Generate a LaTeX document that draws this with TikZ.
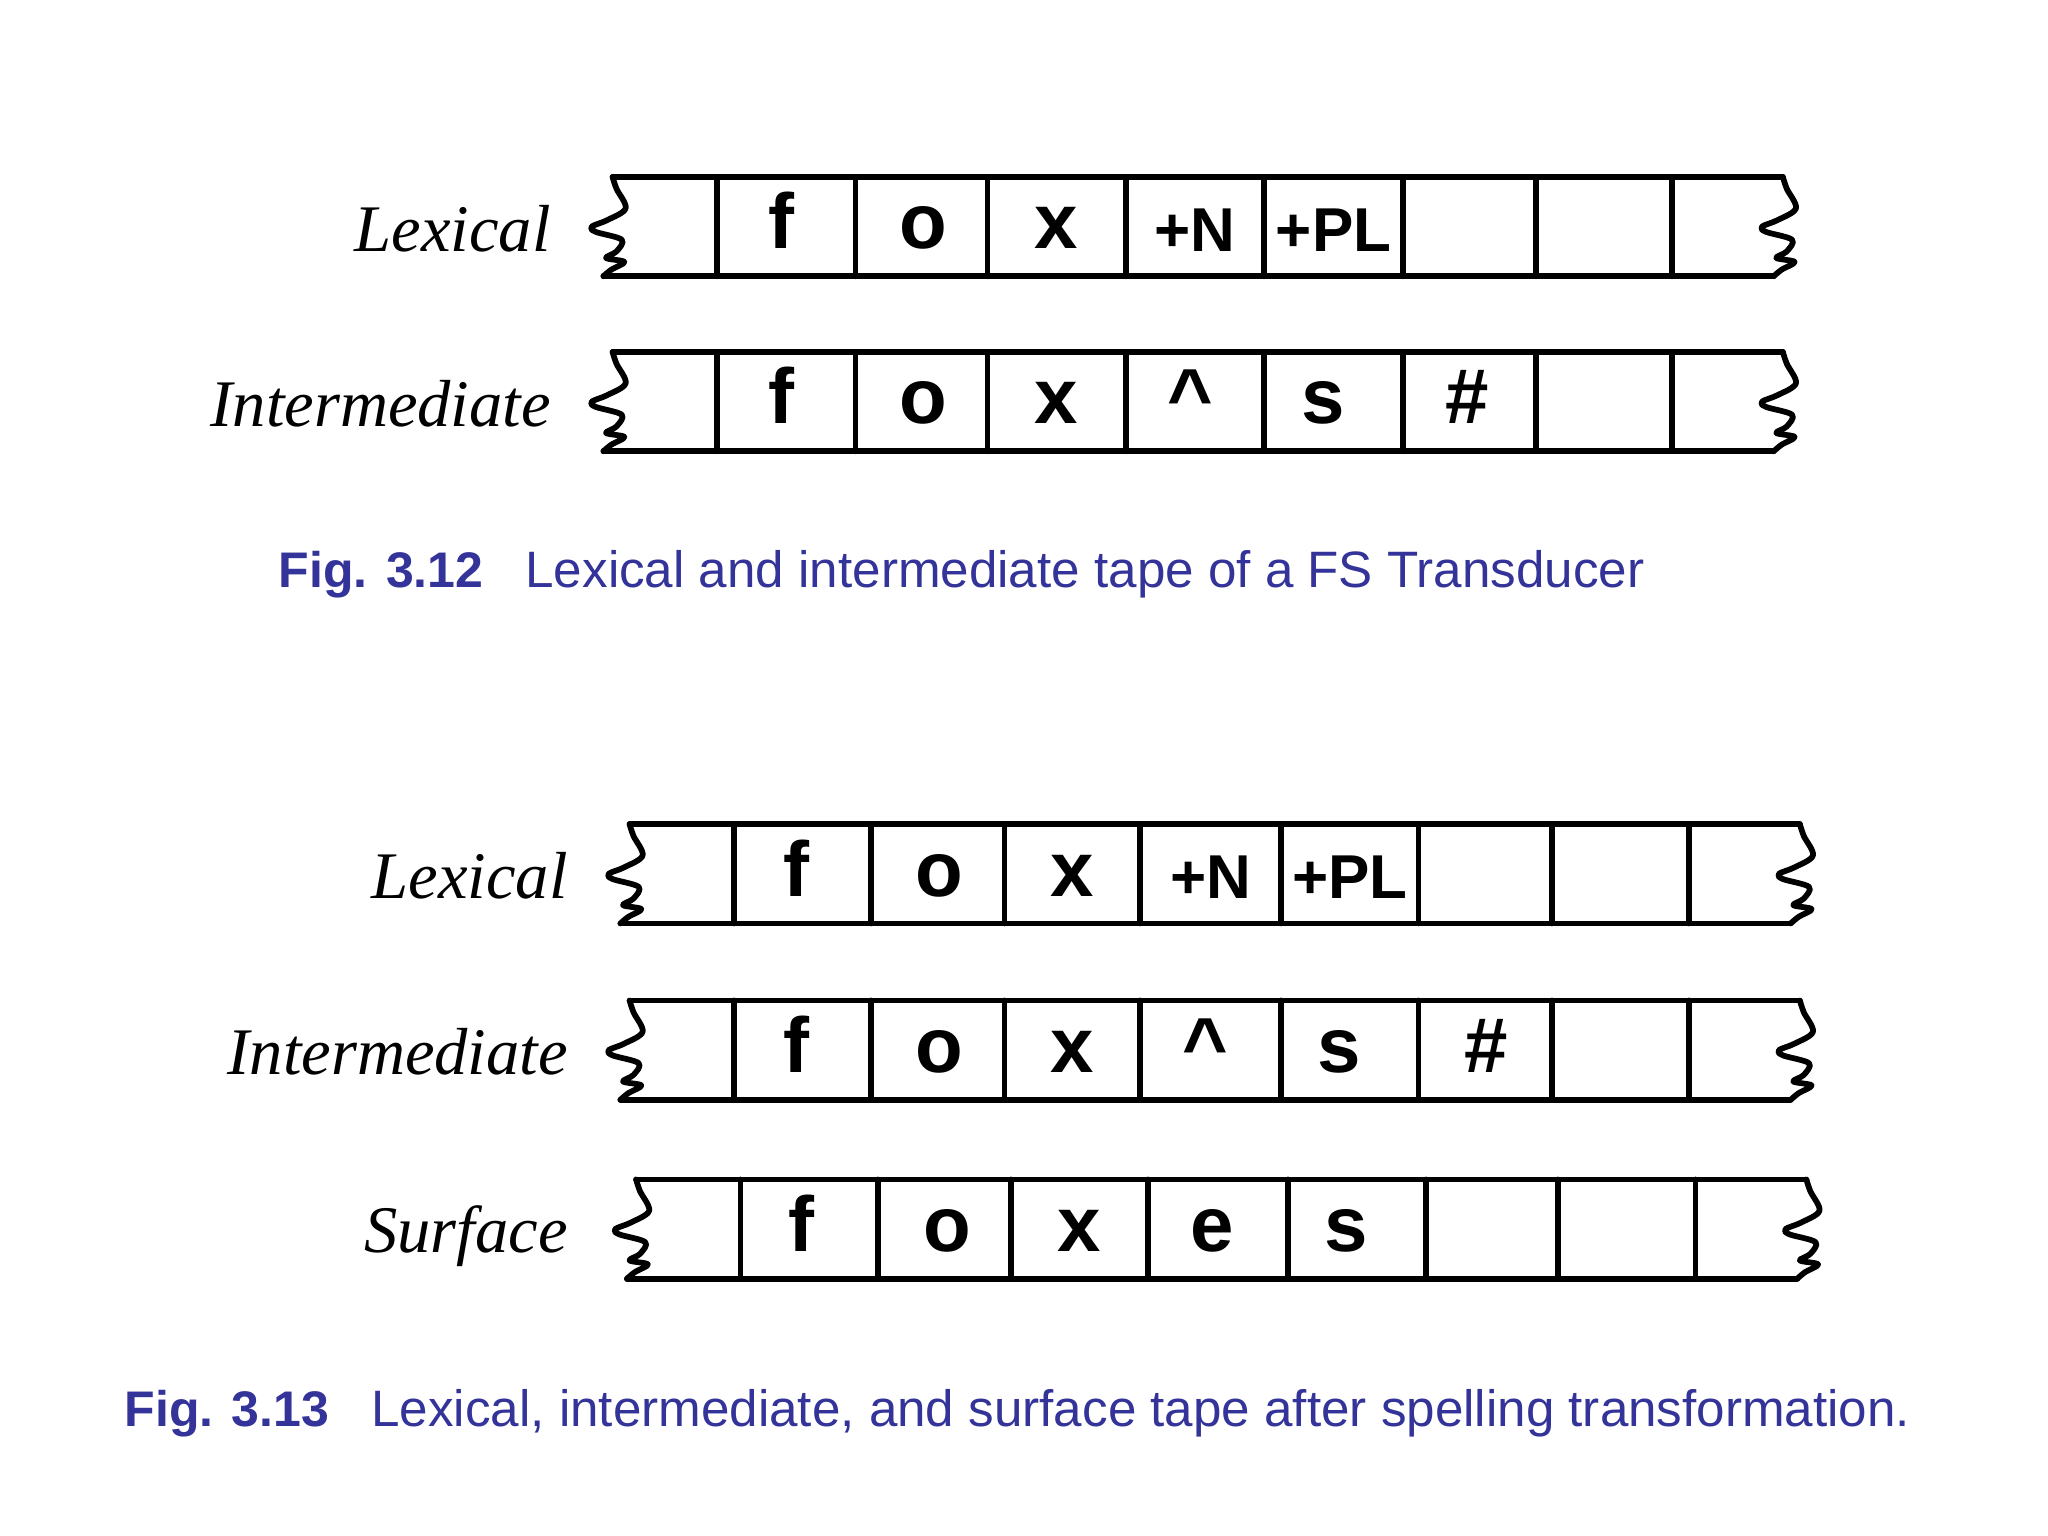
\documentclass[tikz,border=0pt]{standalone}
\usepackage{fontspec}
\setmainfont{Liberation Serif}
\setsansfont{Liberation Sans}
\usepackage{tikz}

\definecolor{capblue}{RGB}{51,51,153}
\tikzset{
  tapeline/.style={black, line width=2.5pt, line join=round, line cap=round},
  wavy/.pic={
    \draw [tapeline] plot [smooth, tension=0.55] coordinates {(0,0) (3,-9) (10,-24) (-4,-33) (-16,-38) (-13,-42) (7,-48) (3,-57) (-5,-62) (9,-65) (-1,-71) (-7,-76)};
  },
  sym/.style={font=\fontsize{34}{34}\selectfont\sffamily\bfseries, anchor=base},
  tag/.style={font=\fontsize{27}{27}\selectfont\sffamily\bfseries, anchor=base},
  tapename/.style={font=\fontsize{29}{30}\selectfont\itshape, anchor=base east},
  capnum/.style={font=\fontsize{21.8}{22}\selectfont\sffamily\bfseries, text=capblue, anchor=base west},
  captext/.style={font=\fontsize{22.3}{22}\selectfont\sffamily, text=capblue, anchor=base west}
}

\begin{document}
\begin{tikzpicture}[x=0.02cm, y=0.02cm]
\tikzstyle{every node}+=[inner sep=0pt]
\useasboundingbox (0,0) rectangle (1568,-1176);
% Fig. 3.12, lexical tape
\draw [tapeline] (469,-135.5) -- (1365,-135.5) (462,-211.5) -- (1358,-211.5)
  (549,-135.5) -- (549,-211.5) (655,-135.5) -- (655,-211.5) (756,-135.5) -- (756,-211.5)
  (862,-135.5) -- (862,-211.5) (968,-135.5) -- (968,-211.5) (1074,-135.5) -- (1074,-211.5)
  (1176,-135.5) -- (1176,-211.5) (1280,-135.5) -- (1280,-211.5);
\pic at (469,-135.5) {wavy};
\pic at (1365,-135.5) {wavy};
\node [tapename] (alex) at (422,-192.5) {Lexical};
\node [sym] (alexf) at (598,-190.5) {f};
\node [sym] (alexo) at (707,-190.5) {o};
\node [sym] (alexx) at (809,-190.5) {x};
\node [tag] (alexn) at (915,-192.5) {+N};
\node [tag] (alexpl) at (1021,-192.5) {+PL};
% Fig. 3.12, intermediate tape
\draw [tapeline] (469,-269.5) -- (1365,-269.5) (462,-345.5) -- (1358,-345.5)
  (549,-269.5) -- (549,-345.5) (655,-269.5) -- (655,-345.5) (756,-269.5) -- (756,-345.5)
  (862,-269.5) -- (862,-345.5) (968,-269.5) -- (968,-345.5) (1074,-269.5) -- (1074,-345.5)
  (1176,-269.5) -- (1176,-345.5) (1280,-269.5) -- (1280,-345.5);
\pic at (469,-269.5) {wavy};
\pic at (1365,-269.5) {wavy};
\node [tapename] (aint) at (422,-326.5) {Intermediate};
\node [sym] (aintf) at (598,-324.5) {f};
\node [sym] (ainto) at (707,-324.5) {o};
\node [sym] (aintx) at (809,-324.5) {x};
\node [sym] (aintc) at (911,-324.5) {\^{}};
\node [sym] (aints) at (1013,-324.5) {s};
\node [sym] (ainth) at (1123,-324.5) {\#};
% caption 3.12
\node [capnum] (capa) at (213,-450) {Fig. 3.12};
\node [captext] (capatext) at (402,-450) {Lexical and intermediate tape of a FS Transducer};
% Fig. 3.13, lexical tape
\draw [tapeline] (482,-631) -- (1378,-631) (475,-707) -- (1371,-707)
  (562,-631) -- (562,-707) (667,-631) -- (667,-707) (769,-631) -- (769,-707)
  (873,-631) -- (873,-707) (981,-631) -- (981,-707) (1086,-631) -- (1086,-707)
  (1188,-631) -- (1188,-707) (1293,-631) -- (1293,-707);
\pic at (482,-631) {wavy};
\pic at (1378,-631) {wavy};
\node [tapename] (blex) at (435,-688) {Lexical};
\node [sym] (blexf) at (610,-686) {f};
\node [sym] (blexo) at (719,-686) {o};
\node [sym] (blexx) at (821,-686) {x};
\node [tag] (blexn) at (927,-688) {+N};
\node [tag] (blexpl) at (1033.5,-688) {+PL};
% Fig. 3.13, intermediate tape
\draw [tapeline] (482,-766) -- (1378,-766) (475,-842) -- (1371,-842)
  (562,-766) -- (562,-842) (667,-766) -- (667,-842) (769,-766) -- (769,-842)
  (873,-766) -- (873,-842) (981,-766) -- (981,-842) (1086,-766) -- (1086,-842)
  (1188,-766) -- (1188,-842) (1293,-766) -- (1293,-842);
\pic at (482,-766) {wavy};
\pic at (1378,-766) {wavy};
\node [tapename] (bint) at (435,-823) {Intermediate};
\node [sym] (bintf) at (610,-821) {f};
\node [sym] (binto) at (719,-821) {o};
\node [sym] (bintx) at (821,-821) {x};
\node [sym] (bintc) at (923,-821) {\^{}};
\node [sym] (bints) at (1025,-821) {s};
\node [sym] (binth) at (1138,-821) {\#};
% Fig. 3.13, surface tape
\draw [tapeline] (487,-903) -- (1383,-903) (480,-979) -- (1376,-979)
  (567,-903) -- (567,-979) (672,-903) -- (672,-979) (774,-903) -- (774,-979)
  (879,-903) -- (879,-979) (986,-903) -- (986,-979) (1092,-903) -- (1092,-979)
  (1193,-903) -- (1193,-979) (1298,-903) -- (1298,-979);
\pic at (487,-903) {wavy};
\pic at (1383,-903) {wavy};
\node [tapename] (bsur) at (435,-959) {Surface};
\node [sym] (bsurf) at (614,-958) {f};
\node [sym] (bsuro) at (725,-958) {o};
\node [sym] (bsurx) at (826.5,-958) {x};
\node [sym] (bsure) at (928,-958) {e};
\node [sym] (bsurs) at (1031,-958) {s};
% caption 3.13
\node [capnum] (capb) at (95,-1092) {Fig. 3.13};
\node [captext] (capbtext) at (284,-1092) {Lexical, intermediate, and surface tape after spelling transformation.};
\end{tikzpicture}
\end{document}
